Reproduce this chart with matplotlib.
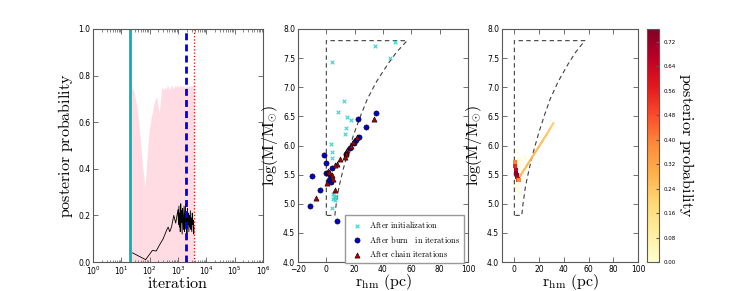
import matplotlib
matplotlib.use('Agg')
import matplotlib.pyplot as plt
from matplotlib.collections import LineCollection
import numpy as np

plt.rcParams['mathtext.fontset'] = 'cm'
plt.rcParams['xtick.direction'] = 'in'
plt.rcParams['ytick.direction'] = 'in'
plt.rcParams['xtick.top'] = True
plt.rcParams['ytick.right'] = True
plt.rcParams['axes.edgecolor'] = '0.35'
plt.rcParams['xtick.color'] = '0.35'
plt.rcParams['ytick.color'] = '0.35'
plt.rcParams['xtick.labelcolor'] = 'black'
plt.rcParams['ytick.labelcolor'] = 'black'

# panel 1: chain trace
FILL_X = [22, 28, 35, 44, 52, 60, 69, 76, 83, 92, 103, 118, 132, 147, 162, 178, 198, 220, 240, 265,
          300, 340, 380, 430, 480, 540, 600, 680, 760, 850, 960, 1080, 1220, 1380, 1550, 1750,
          1980, 2230, 2520, 2850, 3200, 3700]
FILL_Y = [0.76, 0.73, 0.67, 0.56, 0.46, 0.38, 0.32, 0.40, 0.47, 0.54, 0.59, 0.63, 0.66, 0.69, 0.70,
          0.71, 0.67, 0.64, 0.70, 0.75, 0.74, 0.75, 0.74, 0.76, 0.74, 0.75, 0.76, 0.74, 0.76, 0.75,
          0.76, 0.75, 0.76, 0.75, 0.76, 0.74, 0.76, 0.75, 0.76, 0.75, 0.76, 0.75]

TRACE_X = [25, 72, 125, 170, 220, 300, 395, 450, 510, 590, 710, 830, 1000, 1040, 1080, 1120, 1160,
           1200, 1250, 1300, 1350, 1400, 1460, 1520, 1580, 1640, 1700, 1770, 1840, 1910, 1990,
           2070, 2150, 2240, 2330, 2420, 2520, 2620, 2730, 2840, 2950, 3070, 3190, 3320, 3450,
           3580, 3700]
TRACE_Y = [0.039, 0.010, 0.050, 0.047, 0.072, 0.100, 0.136, 0.150, 0.130, 0.150, 0.200, 0.167,
           0.225, 0.160, 0.240, 0.150, 0.210, 0.130, 0.250, 0.170, 0.220, 0.120, 0.230, 0.180,
           0.140, 0.240, 0.130, 0.200, 0.250, 0.150, 0.190, 0.120, 0.230, 0.160, 0.210, 0.130,
           0.200, 0.150, 0.220, 0.140, 0.190, 0.130, 0.210, 0.160, 0.180, 0.120, 0.150]

INIT_ITER = 20
BURN_ITER = 1900
CHAIN_ITER = 3700

# boundary of the prior region
BOUND_X = [0, 0, 57.0, 49.5, 43.5, 35.5, 29.0, 24.0, 19.5, 15.5, 12.0, 9.0, 7.0, 6.0, 0]
BOUND_Y = [4.8, 7.8, 7.8, 7.6, 7.4, 7.1, 6.8, 6.5, 6.2, 5.9, 5.6, 5.3, 5.0, 4.8, 4.8]

# panel 2: walker positions
INIT_X = [48.7, 34.1, 44.7, 3.8, 12.2, 8.2, 14.6, 17.6, 13.6, 13.2, 3.1, 4.2, 3.8, 5.0, 5.5,
          6.5, 4.6, 5.8, 4.2, 2.0]
INIT_Y = [7.78, 7.70, 7.51, 7.44, 6.76, 6.58, 6.49, 6.44, 6.30, 6.19, 6.02, 5.88, 5.79, 5.16,
          5.12, 5.14, 5.09, 5.07, 4.93, 5.42]

BURN_X = [34.8, 22.4, 27.8, 22.8, 20.7, 19.3, 16.9, 13.6, -1.4, 0.0, 4.2, -10.4, -0.5, 1.2, 2.6,
          1.6, 3.3, -4.5, -11.3, 7.3]
BURN_Y = [6.56, 6.45, 6.31, 6.15, 6.09, 6.04, 5.96, 5.85, 5.84, 5.70, 5.62, 5.48, 5.52, 5.53,
          5.50, 5.40, 5.37, 5.24, 4.96, 4.70]

CHAIN_X = [33.4, 21.6, 18.8, 17.6, 14.6, 13.6, 14.1, 12.9, 9.4, 7.5, 6.1, 0.9, 2.1, 3.8, 0.7,
           5.9, -7.5, 4.5]
CHAIN_Y = [6.45, 6.15, 6.06, 5.99, 5.93, 5.89, 5.85, 5.81, 5.76, 5.68, 5.67, 5.56, 5.55, 5.50,
           5.36, 5.24, 5.10, 5.43]

# panel 3: posterior density
HALO_X = [1, 2, 4, 5, 3, 6, 8, 2, 4]
HALO_Y = [5.30, 5.25, 5.35, 5.60, 5.75, 5.70, 5.80, 5.90, 5.20]
HALO_P = [0.05, 0.06, 0.05, 0.04, 0.06, 0.04, 0.03, 0.03, 0.04]

RIDGE_X = [3, 6, 9, 12, 15, 18, 21, 24, 27, 30, 32]
RIDGE_Y = [5.42, 5.52, 5.62, 5.72, 5.82, 5.92, 6.02, 6.12, 6.22, 6.33, 6.40]
RIDGE_P = [0.30, 0.26, 0.27, 0.28, 0.27, 0.26, 0.25, 0.24, 0.23, 0.21, 0.18]

CORE_X = [0.3, 0.6, 1.0, 1.4, 1.8, 2.2, 2.6, 3.0, 3.4]
CORE_Y = [5.72, 5.65, 5.58, 5.53, 5.49, 5.46, 5.43, 5.41, 5.40]
CORE_P = [0.40, 0.55, 0.66, 0.74, 0.74, 0.70, 0.62, 0.50, 0.38]

VMAX = 0.762
CBAR_TICKS = [0.00, 0.08, 0.16, 0.24, 0.32, 0.40, 0.48, 0.56, 0.64, 0.72]

W, H = 747, 291
fig = plt.figure(figsize=(W / 100, H / 100), dpi=100)


def box(x0, x1, y0, y1):
    return [x0 / W, 1 - y1 / H, (x1 - x0) / W, (y1 - y0) / H]


ax1 = fig.add_axes(box(93, 263, 29, 262))
ax2 = fig.add_axes(box(298, 468, 29, 262))
ax3 = fig.add_axes(box(502, 638, 29, 262))
cax = fig.add_axes(box(647, 659, 29, 262))

LAB = 11.5
TICK = 5.5

# ---- panel 1
ax1.fill_between(FILL_X, 0, FILL_Y, color='#ffdce3', lw=0)
ax1.plot(TRACE_X, TRACE_Y, color='k', lw=0.6)
ax1.axvline(INIT_ITER, color='#00b5b5', lw=2)
ax1.axvline(BURN_ITER, color='#0000ee', lw=2, ls='--', dashes=(2.5, 1.5))
ax1.axvline(CHAIN_ITER, color='red', lw=0.9, ls=':')
ax1.set_xscale('log')
ax1.set_xlim(1, 1e6)
ax1.set_ylim(0, 1)
ax1.set_xlabel(r'$\mathrm{iteration}$', fontsize=LAB, labelpad=-1)
ax1.set_ylabel(r'$\mathrm{posterior\ probability}$', fontsize=LAB, labelpad=2)

# ---- panel 2
for ax in (ax2, ax3):
    ax.plot(BOUND_X, BOUND_Y, color='0.25', lw=0.8, ls='--', dashes=(4, 3))

ax2.scatter(INIT_X, INIT_Y, marker='x', s=7, color='#40d0d0', lw=0.8,
            label=r'$\mathrm{After\ initialization}$', zorder=3)
ax2.scatter(BURN_X, BURN_Y, marker='o', s=14, color='#0000cc', edgecolor='k', lw=0.4,
            label=r'$\mathrm{After\ burn\quad in\ iterations}$', zorder=3)
ax2.scatter(CHAIN_X, CHAIN_Y, marker='^', s=14, color='#aa0000', edgecolor='k', lw=0.4,
            label=r'$\mathrm{After\ chain\ iterations}$', zorder=4)
ax2.set_xlim(-20, 100)
ax2.set_ylim(4, 8)
ax2.set_xticks(np.arange(-20, 101, 20))
ax2.set_yticks(np.arange(4, 8.01, 0.5))
ax2.legend(loc='lower right', fontsize=6, scatterpoints=1, frameon=True,
           borderaxespad=0.2, handletextpad=0.5, labelspacing=0.45, fancybox=False,
           edgecolor='0.6', framealpha=1, bbox_to_anchor=(0.985, -0.01))
ax2.set_xlabel(r'$\mathrm{r_{hm}\ (pc)}$', fontsize=LAB, labelpad=-1)
ax2.set_ylabel(r'$\log(\mathrm{M/M_{\odot}})$', fontsize=LAB, labelpad=2)

# ---- panel 3
cmap = plt.get_cmap('YlOrRd')
ax3.scatter(HALO_X, HALO_Y, c=HALO_P, cmap=cmap, vmin=0, vmax=VMAX, s=14, marker='s',
            lw=0, alpha=0.35)
pts = np.column_stack([RIDGE_X, RIDGE_Y])
segs = np.stack([pts[:-1], pts[1:]], axis=1)
lc = LineCollection(segs, cmap=cmap, norm=plt.Normalize(0, VMAX), lw=1.6)
lc.set_array(np.array(RIDGE_P[:-1]))
ax3.add_collection(lc)
sc = ax3.scatter(CORE_X, CORE_Y, c=CORE_P, cmap=cmap, vmin=0, vmax=VMAX, s=8, marker='s',
                 lw=0, zorder=3)
ax3.set_xlim(-10, 100)
ax3.set_ylim(4, 8)
ax3.set_xticks(np.arange(0, 101, 20))
ax3.set_yticks(np.arange(4, 8.01, 0.5))
ax3.set_xlabel(r'$\mathrm{r_{hm}\ (pc)}$', fontsize=LAB, labelpad=-1)
ax3.set_ylabel(r'$\log(\mathrm{M/M_{\odot}})$', fontsize=LAB, labelpad=2)

cb = fig.colorbar(sc, cax=cax)
cb.set_ticks(CBAR_TICKS)
cb.ax.set_yticklabels(['%.2f' % t for t in CBAR_TICKS])
cb.ax.tick_params(labelsize=4, length=2, direction='in')
cb.outline.set_edgecolor('0.35')
cb.set_label(r'$\mathrm{posterior\ probability}$', fontsize=LAB, rotation=270, labelpad=14)

for ax in (ax1, ax2, ax3):
    ax.tick_params(which='major', labelsize=TICK, length=3.5, width=0.6, pad=2)
    ax.tick_params(which='minor', length=1.8, width=0.5)

fig.savefig('out.png', dpi=100)
